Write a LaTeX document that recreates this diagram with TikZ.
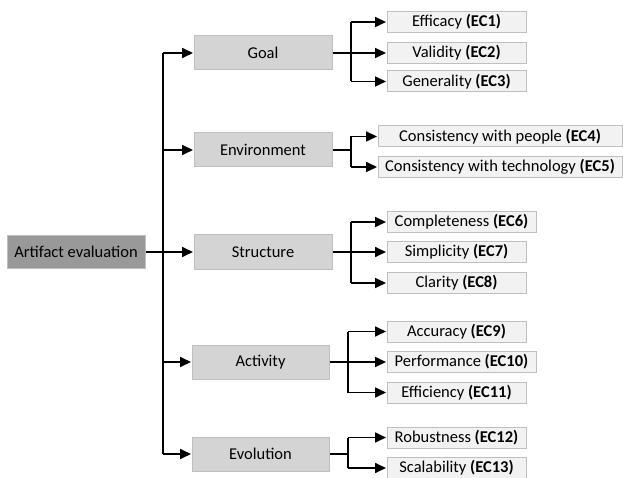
\documentclass[tikz,border=0pt]{standalone}
\usepackage{fontspec}
\setmainfont{Carlito}
\usetikzlibrary{arrows.meta}
\definecolor{rootfill}{HTML}{999999}
\definecolor{catfill}{HTML}{D4D4D4}
\definecolor{leaffill}{HTML}{F2F2F2}
\definecolor{boxline}{HTML}{BFBFBF}
\tikzset{
  txt/.style={font=\fontsize{16.5}{18}\selectfont},
  rootbox/.style={txt, draw=boxline, line width=1pt, fill=rootfill, minimum width=138pt, minimum height=33pt, inner sep=0pt},
  catbox/.style={txt, draw=boxline, line width=1pt, fill=catfill, minimum width=138pt, minimum height=34pt, inner sep=0pt},
  leafbox/.style={txt, draw=boxline, line width=1pt, fill=leaffill, minimum width=139pt, minimum height=21pt, inner sep=0pt},
  link/.style={line width=2pt, draw=black},
  stem/.style={line width=2.6pt, draw=black},
  arr/.style={line width=1.7pt, draw=black, -{Triangle[length=11pt,width=10pt]}, shorten >=0.5pt},
}
\begin{document}
\begin{tikzpicture}[x=1pt,y=-1pt]
\useasboundingbox (0,0) rectangle (623,478);
% root and categories
\node[rootbox] (root) at (76,252) {Artifact evaluation};
\node[catbox] (goal) at (263,53) {Goal};
\node[catbox] (env) at (263,150) {Environment};
\node[catbox] (struct) at (263,252) {Structure};
\node[catbox, minimum width=137pt] (act) at (260.5,362) {Activity};
\node[catbox, minimum width=137pt] (evo) at (260.5,454) {Evolution};
% criteria
\node[leafbox] (ec1) at (456.5,22) {Efficacy \textbf{(EC1)}};
\node[leafbox] (ec2) at (456.5,53) {Validity \textbf{(EC2)}};
\node[leafbox] (ec3) at (456.5,81.5) {Generality \textbf{(EC3)}};
\node[leafbox, minimum width=244pt] (ec4) at (500,136.5) {Consistency with people \textbf{(EC4)}};
\node[leafbox, minimum width=244pt] (ec5) at (500,167) {Consistency with technology \textbf{(EC5)}};
\node[leafbox, minimum width=149pt] (ec6) at (461.5,222) {Completeness \textbf{(EC6)}};
\node[leafbox] (ec7) at (456.5,252) {Simplicity \textbf{(EC7)}};
\node[leafbox] (ec8) at (456.5,283) {Clarity \textbf{(EC8)}};
\node[leafbox] (ec9) at (456.5,331.5) {Accuracy \textbf{(EC9)}};
\node[leafbox, minimum width=149pt] (ec10) at (461.5,362) {Performance \textbf{(EC10)}};
\node[leafbox] (ec11) at (456.5,392.5) {Efficiency \textbf{(EC11)}};
\node[leafbox] (ec12) at (456.5,437.5) {Robustness \textbf{(EC12)}};
\node[leafbox] (ec13) at (456.5,468) {Scalability \textbf{(EC13)}};
% branching points
\coordinate (trunk) at (163,0);
\coordinate (bgoal) at (351,0);
\coordinate (benv) at (351,0);
\coordinate (bstruct) at (351,0);
\coordinate (bact) at (348,0);
\coordinate (bevo) at (348,0);
% root to categories
\draw[link] (trunk|-goal) -- (trunk|-evo);
\draw[stem] (root.east) -- (trunk|-root);
\draw[arr] (trunk|-struct) -- (struct);
\draw[arr] (trunk|-goal) -- (goal);
\draw[arr] (trunk|-env) -- (env);
\draw[arr] (trunk|-act) -- (act);
\draw[arr] (trunk|-evo) -- (evo);
% goal
\draw[stem] (goal.east) -- (bgoal|-goal);
\draw[link] (bgoal|-ec1) -- (bgoal|-ec3);
\draw[arr] (bgoal|-ec1) -- (ec1);
\draw[arr] (bgoal|-ec2) -- (ec2);
\draw[arr] (bgoal|-ec3) -- (ec3);
% environment
\draw[stem] (env.east) -- (benv|-env);
\draw[link] (benv|-ec4) -- (benv|-ec5);
\draw[arr] (benv|-ec4) -- (ec4);
\draw[arr] (benv|-ec5) -- (ec5);
% structure
\draw[stem] (struct.east) -- (bstruct|-struct);
\draw[link] (bstruct|-ec6) -- (bstruct|-ec8);
\draw[arr] (bstruct|-ec6) -- (ec6.west|-ec6);
\draw[arr] (bstruct|-ec7) -- (ec7);
\draw[arr] (bstruct|-ec8) -- (ec8);
% activity
\draw[stem] (act.east) -- (bact|-act);
\draw[link] (bact|-ec9) -- (bact|-ec11);
\draw[arr] (bact|-ec9) -- (ec9);
\draw[arr] (bact|-ec10) -- (ec10);
\draw[arr] (bact|-ec11) -- (ec11);
% evolution
\draw[stem] (evo.east) -- (bevo|-evo);
\draw[link] (bevo|-ec12) -- (bevo|-ec13);
\draw[arr] (bevo|-ec12) -- (ec12);
\draw[arr] (bevo|-ec13) -- (ec13);
\end{tikzpicture}
\end{document}
